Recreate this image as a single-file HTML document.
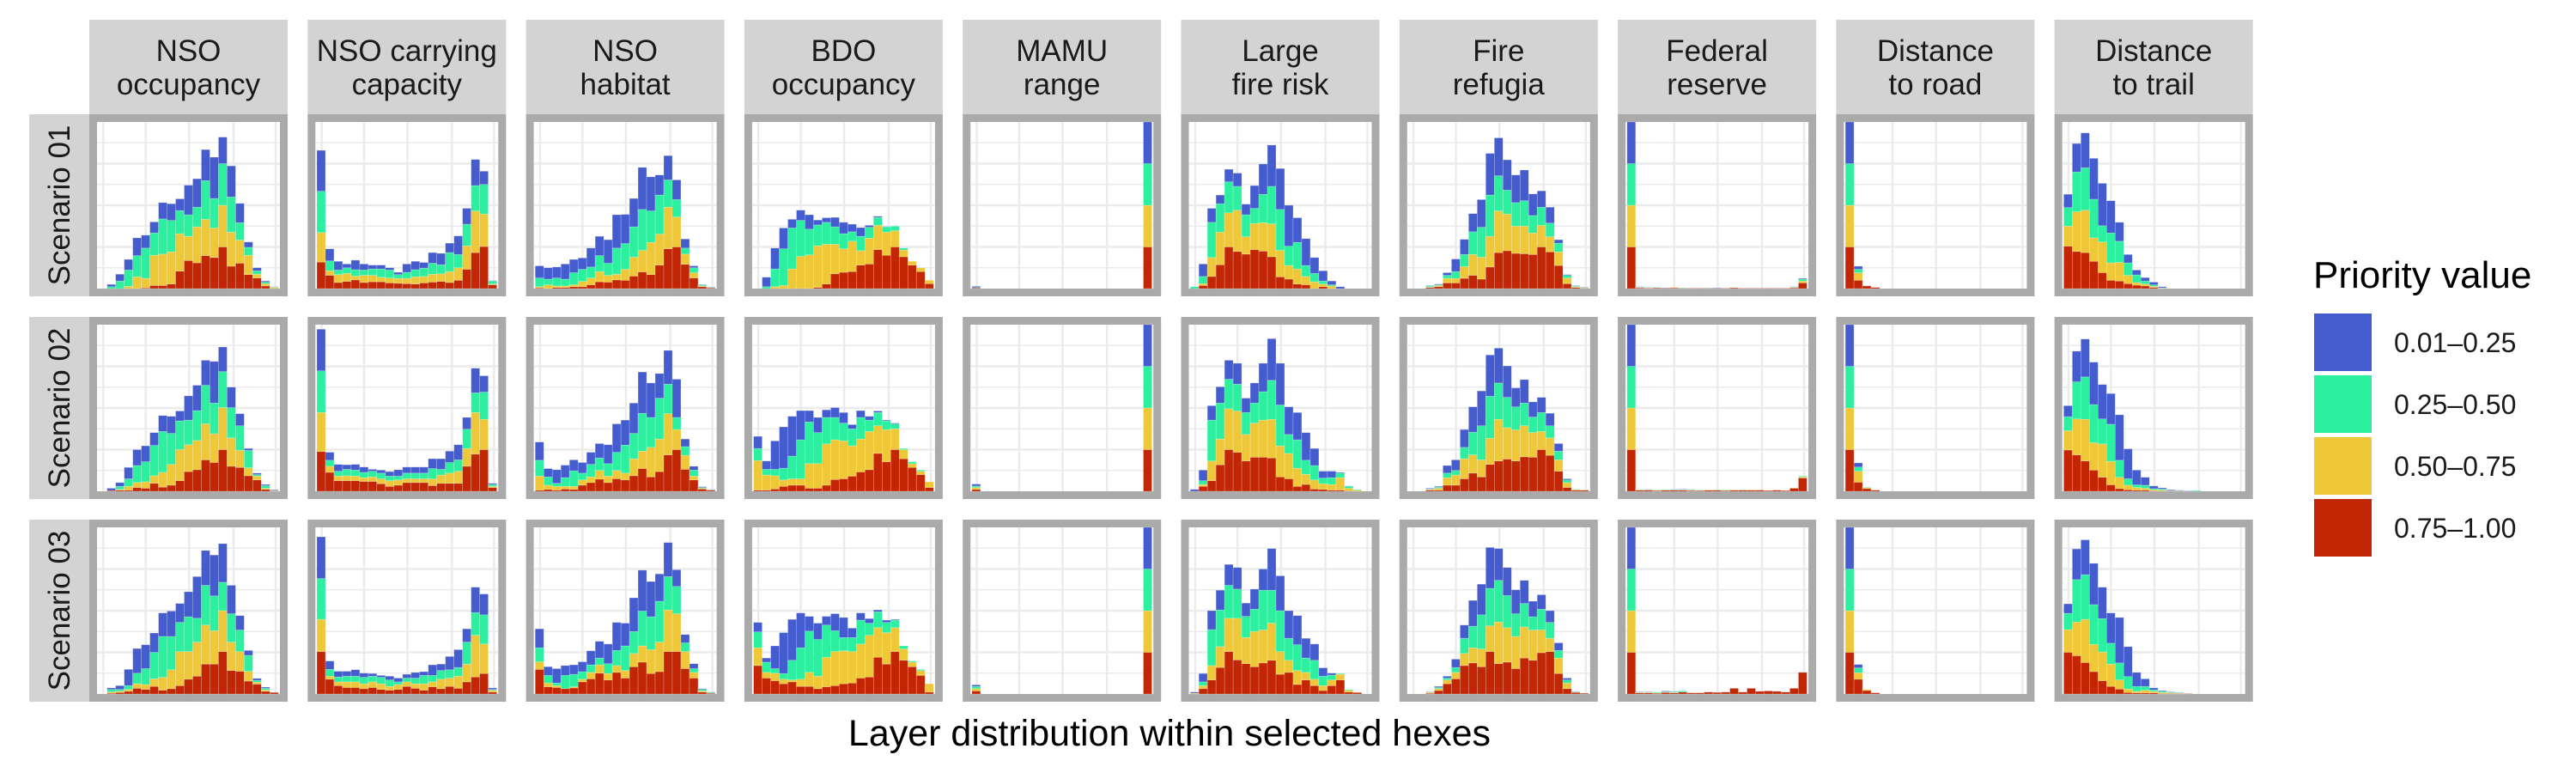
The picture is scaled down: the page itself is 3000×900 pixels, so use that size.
<!DOCTYPE html>
<html><head><meta charset="utf-8"><title>Layer distribution within selected hexes</title>
<style>html,body{margin:0;padding:0;background:#fff}svg{display:block}text{font-family:"Liberation Sans",Arial,sans-serif}</style>
</head><body>
<svg id="chart" xmlns="http://www.w3.org/2000/svg" width="3000" height="900" viewBox="0 0 3000 900">
<rect x="0" y="0" width="3000" height="900" fill="#ffffff"/>
<g id="panels"></g>
<text x="1362" y="868" font-size="43" text-anchor="middle" fill="#000">Layer distribution within selected hexes</text>
<g id="legend">
<text x="2694" y="335" font-size="44" fill="#000">Priority value</text>
</g>
</svg>
<script>
const categoryLine1 = ["NSO","NSO carrying","NSO","BDO","MAMU","Large","Fire","Federal","Distance","Distance"];
const categoryLine2 = ["occupancy","capacity","habitat","occupancy","range","fire risk","refugia","reserve","to road","to trail"];
const scenarios = ["Scenario 01","Scenario 02","Scenario 03"];
const seriesLabels = ["0.01–0.25","0.25–0.50","0.50–0.75","0.75–1.00"];
const seriesColors = ["#455ccf","#2cef9f","#efc83a","#c32604"];
const binCount = 21;
const yMax = 440;

const nsoOcc1 = {red:[0,0,0,0,0,2,8,8,12,46,74,68,87,82,110,59,67,37,28,7,0], yel:[0,0,0,6,31,25,80,83,85,99,64,95,96,78,110,90,61,51,10,6,3], grn:[0,5,20,43,56,80,59,93,83,61,57,52,102,78,110,93,46,21,9,4,1], blu:[0,6,18,28,47,34,29,43,44,31,78,75,82,109,70,82,51,14,8,3,1]};
const nsoOcc2 = {red:[0,2,3,3,10,8,21,11,16,28,52,57,83,76,110,66,63,41,30,5,1], yel:[0,0,2,10,13,17,20,39,55,82,71,77,95,76,111,75,45,21,10,3,1], grn:[0,0,8,20,45,53,80,108,82,76,65,79,102,81,95,80,65,46,4,7,0], blu:[0,6,10,30,42,42,34,42,45,26,64,67,66,110,65,54,32,5,4,3,2]};
const nsoOcc3 = {red:[0,2,4,7,15,12,20,10,14,22,39,47,79,79,112,62,60,34,26,7,4], yel:[0,3,3,5,12,13,20,34,50,90,73,90,103,88,108,75,52,26,5,4,0], grn:[0,7,5,10,28,42,70,108,88,77,92,63,105,92,75,75,57,42,5,4,0], blu:[0,4,10,43,65,63,51,62,67,50,66,110,92,108,102,75,38,13,5,3,0]};

const nsoCap1 = {red:[70,35,16,19,23,16,18,18,15,14,13,12,15,17,19,16,22,51,95,111,10], yel:[78,12,21,21,10,19,17,12,13,13,14,19,17,21,20,29,33,62,110,86,2], grn:[109,26,12,15,17,14,17,22,21,10,16,19,22,29,24,50,35,57,67,78,8], blu:[108,32,23,10,25,16,10,10,6,6,22,22,15,28,30,25,49,42,69,35,1]};
const nsoCap2 = {red:[105,50,28,28,28,26,26,20,13,16,23,23,23,15,21,21,21,66,98,110,10], yel:[103,16,12,13,12,10,12,13,15,14,10,10,10,18,22,27,32,47,110,80,3], grn:[110,16,13,17,16,14,15,15,12,10,15,15,15,27,15,28,30,51,52,72,5], blu:[110,21,18,12,15,14,5,8,12,17,16,16,16,26,28,30,40,31,65,43,3]};
const nsoCap3 = {red:[112,39,22,17,17,14,17,12,10,12,20,15,10,19,14,20,15,32,45,54,5], yel:[85,8,10,15,15,13,15,15,10,13,12,12,17,13,25,22,32,47,110,78,5], grn:[108,18,13,15,15,17,15,17,17,7,10,15,22,17,23,22,23,58,60,77,2], blu:[110,22,15,13,17,11,7,5,10,10,10,15,10,28,17,35,47,35,67,55,4]};

const nsoHab1 = {red:[2,0,3,3,5,5,10,18,17,23,22,33,44,37,62,105,110,64,28,5,2], yel:[3,10,4,4,5,14,18,27,18,15,29,50,57,85,82,110,79,27,14,2,0], grn:[23,15,21,18,32,32,29,42,32,69,68,80,108,83,103,72,46,16,13,3,1], blu:[32,30,29,40,35,30,50,51,62,88,77,75,111,90,53,64,52,24,5,1,1]};
const nsoHab2 = {red:[3,5,3,6,5,16,23,32,23,33,30,41,60,38,52,96,110,58,30,6,3], yel:[37,11,10,7,8,14,15,23,17,22,18,45,46,78,86,109,53,37,10,2,0], grn:[42,22,8,23,41,18,33,33,33,48,74,67,100,79,108,78,32,23,16,2,1], blu:[48,22,36,33,29,28,32,38,50,75,66,80,109,91,65,89,101,20,10,2,1]};
const nsoHab3 = {red:[65,19,17,14,16,32,40,55,37,57,42,72,84,54,59,112,112,67,42,5,2], yel:[20,10,5,0,3,7,17,22,17,18,20,35,43,63,78,110,100,45,15,3,0], grn:[37,20,7,35,33,20,20,18,26,40,65,58,92,87,108,88,72,23,10,4,2], blu:[50,23,38,26,25,26,37,44,52,74,60,89,108,93,72,90,44,22,13,2,1]};

const bdo1 = {red:[0,0,0,0,0,0,0,3,12,39,43,45,62,65,103,88,110,84,62,45,13], yel:[0,0,5,8,52,85,89,110,105,78,62,80,38,68,64,61,43,18,10,10,9], grn:[0,5,47,97,108,95,68,55,58,46,40,25,38,29,21,14,12,5,0,0,0], blu:[0,25,55,55,23,27,38,13,12,25,30,20,23,5,3,1,0,0,0,0,0]};
const bdo2 = {red:[3,3,6,13,16,16,8,8,16,31,33,40,51,57,100,78,110,86,63,44,10], yel:[78,40,35,17,17,17,65,65,109,105,100,80,87,101,73,85,55,24,10,9,15], grn:[32,15,17,31,60,103,110,82,70,59,47,45,57,30,35,23,13,3,5,3,0], blu:[32,22,75,109,105,77,30,40,20,26,28,11,18,10,4,2,2,0,0,0,0]};
const bdo3 = {red:[75,42,35,27,32,20,20,14,19,22,27,29,42,45,97,79,112,89,72,49,5], yel:[47,15,20,12,5,19,37,33,78,90,87,83,90,110,78,83,63,30,12,13,22], grn:[42,27,12,15,52,83,109,97,85,55,35,37,63,32,42,27,20,8,3,3,0], blu:[25,11,60,108,108,92,39,43,23,45,53,25,19,12,5,6,2,0,0,0,0]};

const mamu1 = {red:[2,0,0,0,0,0,0,0,0,0,0,0,0,0,0,0,0,0,0,0,110], yel:[0,0,0,0,0,0,0,0,0,0,0,0,0,0,0,0,0,0,0,0,110], grn:[1,0,0,0,0,0,0,0,0,0,0,0,0,0,0,0,0,0,0,0,110], blu:[3,0,0,0,0,0,0,0,0,0,0,0,0,0,0,0,0,0,0,0,110]};
const mamu2 = {red:[5,0,0,0,0,0,0,0,0,0,0,0,0,0,0,0,0,0,0,0,110], yel:[5,0,0,0,0,0,0,0,0,0,0,0,0,0,0,0,0,0,0,0,110], grn:[4,0,0,0,0,0,0,0,0,0,0,0,0,0,0,0,0,0,0,0,110], blu:[5,0,0,0,0,0,0,0,0,0,0,0,0,0,0,0,0,0,0,0,110]};
const mamu3 = {red:[8,0,0,0,0,0,0,0,0,0,0,0,0,0,0,0,0,0,0,0,110], yel:[6,0,0,0,0,0,0,0,0,0,0,0,0,0,0,0,0,0,0,0,110], grn:[6,0,0,0,0,0,0,0,0,0,0,0,0,0,0,0,0,0,0,0,110], blu:[4,0,0,0,0,0,0,0,0,0,0,0,0,0,0,0,0,0,0,0,110]};

const fireRisk1 = {red:[0,8,32,63,110,98,91,103,99,84,31,25,12,10,0,5,0,0,0,0,0], yel:[0,5,50,86,90,109,46,69,75,87,70,36,40,22,18,7,7,0,0,0,0], grn:[5,19,93,75,82,63,58,40,75,99,108,51,70,29,22,8,3,0,0,0,0], blu:[0,33,37,23,33,35,28,60,80,109,108,108,65,71,42,27,10,5,0,0,0]};
const fireRisk2 = {red:[0,13,28,70,110,103,80,90,90,88,38,33,13,18,6,5,3,3,1,0,0], yel:[0,5,52,68,108,109,70,90,98,102,82,67,48,27,24,15,15,33,7,3,0], grn:[0,10,108,95,78,71,58,53,75,103,108,50,75,37,38,15,18,12,5,2,0], blu:[5,28,38,43,50,55,38,53,75,110,110,73,72,73,45,18,17,2,1,0,0]};
const fireRisk3 = {red:[0,14,37,70,112,90,80,72,82,89,52,57,25,37,22,9,22,37,5,4,0], yel:[2,8,38,55,88,110,69,93,87,98,60,32,37,20,17,13,15,15,5,1,0], grn:[0,10,95,97,87,77,56,59,105,87,108,58,68,38,50,25,13,2,2,0,0], blu:[3,22,50,52,55,57,35,53,56,110,92,73,77,52,43,22,5,0,0,0,0]};

const refugia1 = {red:[0,0,3,5,15,15,27,35,25,57,95,100,93,92,90,110,97,61,13,3,1], yel:[0,0,1,3,12,12,31,55,58,81,110,97,72,73,57,57,40,36,15,2,1], grn:[0,0,3,2,8,18,32,60,79,109,93,63,62,67,46,48,36,23,7,2,1], blu:[0,0,1,2,7,33,40,48,73,110,100,80,73,81,57,43,42,9,2,1,1]};
const refugia2 = {red:[0,0,3,3,16,16,33,48,38,71,80,85,80,91,90,110,95,53,10,3,3], yel:[0,0,2,5,20,27,53,48,45,69,110,83,82,82,65,48,46,30,13,2,1], grn:[0,0,1,3,12,12,30,60,90,111,96,80,61,60,41,50,32,23,7,1,0], blu:[0,0,2,2,20,28,47,67,92,109,92,83,50,62,40,40,33,20,3,0,0]};
const refugia3 = {red:[0,0,2,9,27,40,75,82,72,112,80,84,67,95,89,109,112,54,14,4,2], yel:[0,0,2,5,10,17,32,40,47,68,110,91,85,82,80,60,35,41,15,1,0], grn:[0,0,1,3,5,13,40,57,90,99,110,85,60,62,35,55,42,20,8,1,0], blu:[0,0,1,3,5,22,35,68,81,108,84,74,63,61,41,38,31,20,5,1,0]};

const fedRes1 = {red:[110,2,1,2,1,2,1,1,1,1,1,1,2,1,1,1,1,1,1,2,15], yel:[110,1,1,0,0,1,0,0,0,0,0,0,0,0,0,0,0,0,0,1,5], grn:[110,1,0,1,0,0,1,0,0,1,0,0,0,0,0,0,0,0,0,1,5], blu:[110,1,1,0,1,0,0,0,0,0,1,0,0,0,0,0,0,0,0,1,2]};
const fedRes2 = {red:[110,3,3,2,3,3,3,2,2,3,3,2,3,3,3,3,2,3,2,8,35], yel:[110,1,1,1,1,0,1,1,0,1,0,1,1,0,1,0,0,0,0,1,3], grn:[110,1,0,1,1,1,1,1,1,0,1,1,0,1,0,0,0,0,0,0,2], blu:[110,0,1,0,0,1,1,1,0,0,0,0,0,0,0,0,0,0,0,0,0]};
const fedRes3 = {red:[110,3,3,2,4,3,5,3,3,5,4,5,15,5,15,7,8,7,5,15,57], yel:[110,1,1,1,1,1,0,0,0,0,0,0,0,0,0,0,0,0,0,0,0], grn:[110,1,1,2,1,2,3,0,0,0,0,0,0,0,0,0,0,0,0,0,0], blu:[110,1,1,0,2,1,0,0,0,0,0,0,0,0,0,0,0,0,0,0,0]};

const road1 = {red:[110,22,7,3,0,0,0,0,0,0,0,0,0,0,0,0,0,0,0,0,0], yel:[110,20,0,0,0,0,0,0,0,0,0,0,0,0,0,0,0,0,0,0,0], grn:[110,9,0,0,0,0,0,0,0,0,0,0,0,0,0,0,0,0,0,0,0], blu:[110,8,0,0,0,0,0,0,0,0,0,0,0,0,0,0,0,0,0,0,0]};
const road2 = {red:[110,24,7,3,0,0,0,0,0,0,0,0,0,0,0,0,0,0,0,0,0], yel:[110,29,3,0,0,0,0,0,0,0,0,0,0,0,0,0,0,0,0,0,0], grn:[110,11,1,0,0,0,0,0,0,0,0,0,0,0,0,0,0,0,0,0,0], blu:[110,11,0,0,0,0,0,0,0,0,0,0,0,0,0,0,0,0,0,0,0]};
const road3 = {red:[110,39,9,3,0,0,0,0,0,0,0,0,0,0,0,0,0,0,0,0,0], yel:[110,17,3,0,0,0,0,0,0,0,0,0,0,0,0,0,0,0,0,0,0], grn:[110,13,0,0,0,0,0,0,0,0,0,0,0,0,0,0,0,0,0,0,0], blu:[110,9,0,0,0,0,0,0,0,0,0,0,0,0,0,0,0,0,0,0,0]};

const trail1 = {red:[112,98,95,72,42,22,20,13,9,7,3,0,0,0,0,0,0,0,0,0,0], yel:[53,105,112,62,81,46,49,22,7,5,3,1,0,0,0,0,0,0,0,0,0], grn:[49,105,112,102,43,79,56,33,20,8,4,1,0,0,0,0,0,0,0,0,0], blu:[35,75,92,108,112,85,50,22,13,9,7,3,0,0,0,0,0,0,0,0,0]};
const trail2 = {red:[109,96,80,56,37,17,7,4,3,3,1,0,1,1,0,0,0,0,0,0,0], yel:[51,95,110,72,88,62,30,12,7,5,3,3,0,0,0,0,0,0,0,0,0], grn:[37,98,112,101,66,98,45,17,7,8,3,3,1,1,0,2,0,0,0,0,0], blu:[29,81,100,112,91,81,120,79,39,21,7,3,2,1,1,0,0,0,0,0,0]};
const trail3 = {red:[110,101,83,59,35,20,13,4,3,3,3,1,1,1,1,0,0,0,0,0,0], yel:[60,89,114,72,76,59,24,9,4,7,4,3,2,1,0,0,0,0,0,0,0], grn:[43,112,118,105,88,55,45,33,13,10,4,3,2,1,0,0,0,0,0,0,0], blu:[25,81,92,109,83,80,120,79,37,20,5,2,1,1,0,0,0,0,0,0,0]};

const scenario1Panels = [nsoOcc1,nsoCap1,nsoHab1,bdo1,mamu1,fireRisk1,refugia1,fedRes1,road1,trail1];
const scenario2Panels = [nsoOcc2,nsoCap2,nsoHab2,bdo2,mamu2,fireRisk2,refugia2,fedRes2,road2,trail2];
const scenario3Panels = [nsoOcc3,nsoCap3,nsoHab3,bdo3,mamu3,fireRisk3,refugia3,fedRes3,road3,trail3];
const panelRows = [scenario1Panels, scenario2Panels, scenario3Panels];

(function(){
  const NS = "http://www.w3.org/2000/svg";
  const g = document.getElementById('panels');
  const colX0 = 104, colPitch = 254.3, panelW = 231, panelH = 212, rowY0 = 133, rowPitch = 236, border = 9;
  const innerW = panelW - 2*border, innerH = panelH - 2*border;
  function mk(tag, attrs, parent){ const e = document.createElementNS(NS, tag); for (const k in attrs) e.setAttribute(k, attrs[k]); parent.appendChild(e); return e; }
  function xScale(binIndex){ return 1.7 + binIndex * (innerW - 3.4) / binCount; }
  function yScale(v){ return innerH - v / yMax * innerH; }
  const seriesKeys = ['red','yel','grn','blu'];
  const stackColors = [seriesColors[3], seriesColors[2], seriesColors[1], seriesColors[0]];
  const stackNames = ['0-75-1-00','0-50-0-75','0-25-0-50','0-01-0-25'];

  // column strips
  for (let c = 0; c < categoryLine1.length; c++) {
    const sx = colX0 + c*colPitch;
    const sg = mk('g', {}, g);
    
    
    mk('rect', {x: sx, y: 23, width: panelW, height: 110, fill: '#d3d3d3'}, sg);
    const t1 = mk('text', {x: sx + panelW/2, y: 71, 'font-size': 35, 'text-anchor': 'middle', fill: '#1a1a1a'}, sg);
    t1.textContent = categoryLine1[c];
    
    
    const t2 = mk('text', {x: sx + panelW/2, y: 110, 'font-size': 35, 'text-anchor': 'middle', fill: '#1a1a1a'}, sg);
    t2.textContent = categoryLine2[c];
    
    
  }
  // row strips
  for (let r = 0; r < scenarios.length; r++) {
    const ry = rowY0 + r*rowPitch;
    const rg = mk('g', {}, g);
    
    
    mk('rect', {x: 34, y: ry, width: 70, height: panelH, fill: '#d3d3d3'}, rg);
    const t = mk('text', {x: 0, y: 0, 'font-size': 35, 'text-anchor': 'middle', fill: '#1a1a1a', transform: 'translate(81,' + (ry + panelH/2) + ') rotate(-90)'}, rg);
    t.textContent = scenarios[r];
    
    
  }
  // panels
  for (let r = 0; r < panelRows.length; r++) {
    for (let c = 0; c < panelRows[r].length; c++) {
      const px = colX0 + c*colPitch, py = rowY0 + r*rowPitch;
      const pg = mk('g', {}, g);
      
      
      const fr = mk('rect', {x: px, y: py, width: panelW, height: panelH, fill: '#aaaaaa'}, pg);
      
      
      const ix = px + border, iy = py + border;
      const inner = mk('g', {transform: 'translate(' + ix + ',' + iy + ')'}, pg);
      mk('rect', {x: 0, y: 0, width: innerW, height: innerH, fill: '#ffffff'}, inner);
      const grid = mk('g', {stroke: '#ebebeb'}, inner);
      
      
      [7.3, 56.7, 107.3, 159, 208].forEach(function(vx){ mk('line', {x1: vx, x2: vx, y1: 0, y2: innerH, 'stroke-width': 2.4}, grid); });
      for (let k = 1; k <= 7; k++) { const hy = k*innerH/8; mk('line', {x1: 0, x2: innerW, y1: hy, y2: hy, 'stroke-width': (k % 2 === 0) ? 2.6 : 1.4}, grid); }
      const d = panelRows[r][c];
      const bw = (innerW - 3.4) / binCount;
      for (let i = 0; i < binCount; i++) {
        let cum = 0;
        for (let s = 0; s < 4; s++) {
          const v = d[seriesKeys[s]][i];
          if (!v) continue;
          const y1 = yScale(cum), y2 = yScale(cum + v);
          const bar = mk('rect', {x: xScale(i), y: y2, width: bw, height: y1 - y2, fill: stackColors[s], stroke: 'rgba(255,255,255,0.35)', 'stroke-width': 0.6}, inner);
          
          
          cum += v;
        }
      }
    }
  }
  // legend
  const lg = document.getElementById('legend');
  for (let k = 0; k < seriesLabels.length; k++) {
    const ky = 365 + k*72;
    const e = mk('g', {}, lg);
    
    
    mk('rect', {x: 2695, y: ky, width: 67, height: 67, fill: seriesColors[k]}, e);
    const t = mk('text', {x: 2788, y: ky + 45, 'font-size': 32, fill: '#1a1a1a'}, e);
    t.textContent = seriesLabels[k];
    
    
  }
})();
</script>
</body></html>
